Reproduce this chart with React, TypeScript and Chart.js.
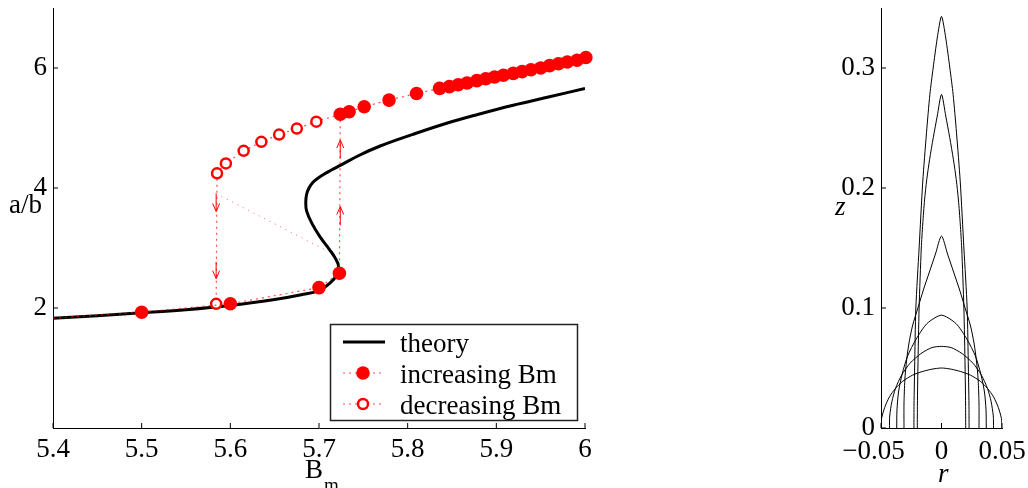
import React, { useEffect, useRef } from 'react';
import { Chart, registerables } from 'chart.js';

Chart.register(...registerables);

const SERIF = '"Liberation Serif", "DejaVu Serif", serif';
const FS = 27;

// ---------- left panel data ----------
const xTickValues = [5.4, 5.5, 5.6, 5.7, 5.8, 5.9, 6];
const xTickLabels = ['5.4', '5.5', '5.6', '5.7', '5.8', '5.9', '6'];
const yTickValues = [2, 4, 6];
const yTickLabels = ['2', '4', '6'];

const theoryBm = [5.40, 5.45, 5.50, 5.55, 5.60, 5.65, 5.68, 5.70, 5.712, 5.72, 5.722, 5.718, 5.712, 5.701, 5.692, 5.686, 5.6851, 5.686, 5.6887, 5.693, 5.6983, 5.7051, 5.7135, 5.724, 5.745, 5.769, 5.805, 5.844, 5.88, 5.919, 5.96, 6.00];
const theoryAB = [1.83, 1.87, 1.92, 1.97, 2.04, 2.14, 2.22, 2.29, 2.41, 2.55, 2.70, 2.84, 2.97, 3.19, 3.41, 3.62, 3.767, 3.892, 4.00, 4.092, 4.158, 4.225, 4.295, 4.377, 4.542, 4.70, 4.89, 5.08, 5.23, 5.38, 5.52, 5.66];

const incBm = [5.40, 5.50, 5.60, 5.70, 5.723, 5.724, 5.734, 5.751, 5.779, 5.810, 5.836, 5.847, 5.857, 5.867, 5.878, 5.888, 5.898, 5.908, 5.919, 5.929, 5.939, 5.950, 5.960, 5.970, 5.980, 5.991, 6.001];
const incAB = [1.83, 1.93, 2.07, 2.34, 2.58, 5.23, 5.27, 5.355, 5.465, 5.575, 5.66, 5.69, 5.72, 5.75, 5.79, 5.82, 5.85, 5.88, 5.91, 5.94, 5.97, 6.00, 6.04, 6.07, 6.10, 6.13, 6.175];
const incShown = [0, 1, 1, 1, 1, 1, 1, 1, 1, 1, 1, 1, 1, 1, 1, 1, 1, 1, 1, 1, 1, 1, 1, 1, 1, 1, 1];

const decBm = [5.724, 5.697, 5.675, 5.655, 5.635, 5.615, 5.595, 5.585, 5.584];
const decAB = [5.23, 5.105, 4.99, 4.89, 4.77, 4.62, 4.41, 4.245, 2.07];
const decShown = [0, 1, 1, 1, 1, 1, 1, 1, 1];

const guideBm = [5.590, 5.708];
const guideAB = [3.86, 2.96];

const arrowBm = [5.584, 5.584, 5.724, 5.724];
const arrowFrom = [3.91, 2.77, 3.38, 4.49];
const arrowTo = [3.61, 2.49, 3.69, 4.80];

const legendLabels = ['theory', 'increasing Bm', 'decreasing Bm'];

// ---------- right panel data ----------
const rTickValues = [-0.05, 0, 0.05];
const rTickLabels = ['\u22120.05', '0', '0.05'];
const zTickValues = [0, 0.1, 0.2, 0.3];
const zTickLabels = ['0', '0.1', '0.2', '0.3'];

const dropA_r = [-0.0228, -0.0227, -0.0222, -0.0212, -0.0185, -0.0155, -0.0124, -0.0096, -0.0069, -0.0035, 0, 0.0035, 0.0069, 0.0096, 0.0124, 0.0155, 0.0185, 0.0212, 0.0222, 0.0227, 0.0228];
const dropA_z = [0, 0.02, 0.05, 0.10, 0.15, 0.205, 0.246, 0.278, 0.30, 0.325, 0.343, 0.325, 0.30, 0.278, 0.246, 0.205, 0.15, 0.10, 0.05, 0.02, 0];

const dropB_r = [-0.0200, -0.0199, -0.0195, -0.0185, -0.0167, -0.0155, -0.0140, -0.0122, -0.0098, -0.0068, -0.0035, 0, 0.0035, 0.0068, 0.0098, 0.0122, 0.0140, 0.0155, 0.0167, 0.0185, 0.0195, 0.0199, 0.0200];
const dropB_z = [0, 0.02, 0.05, 0.10, 0.15, 0.17, 0.19, 0.207, 0.224, 0.242, 0.260, 0.278, 0.260, 0.242, 0.224, 0.207, 0.19, 0.17, 0.15, 0.10, 0.05, 0.02, 0];

const dropC_r = [-0.031, -0.031, -0.0303, -0.029, -0.027, -0.024, -0.0195, -0.015, -0.010, -0.005, 0, 0.005, 0.010, 0.015, 0.0195, 0.024, 0.027, 0.029, 0.0303, 0.031, 0.031];
const dropC_z = [0, 0.02, 0.04, 0.055, 0.07, 0.085, 0.10, 0.115, 0.13, 0.145, 0.160, 0.145, 0.13, 0.115, 0.10, 0.085, 0.07, 0.055, 0.04, 0.02, 0];

const dropD_r = [-0.037, -0.0368, -0.0355, -0.0325, -0.028, -0.021, -0.012, 0, 0.012, 0.021, 0.028, 0.0325, 0.0355, 0.0368, 0.037];
const dropD_z = [0, 0.015, 0.03, 0.045, 0.06, 0.074, 0.087, 0.094, 0.087, 0.074, 0.06, 0.045, 0.03, 0.015, 0];

const dropE_r = [-0.043, -0.0428, -0.041, -0.038, -0.033, -0.026, -0.017, -0.008, 0, 0.008, 0.017, 0.026, 0.033, 0.038, 0.041, 0.0428, 0.043];
const dropE_z = [0, 0.01, 0.022, 0.033, 0.044, 0.054, 0.062, 0.067, 0.068, 0.067, 0.062, 0.054, 0.044, 0.033, 0.022, 0.01, 0];

const dropF_r = [-0.050, -0.0495, -0.047, -0.043, -0.038, -0.032, -0.024, -0.016, -0.008, 0, 0.008, 0.016, 0.024, 0.032, 0.038, 0.043, 0.047, 0.0495, 0.050];
const dropF_z = [0, 0.008, 0.017, 0.026, 0.033, 0.039, 0.044, 0.047, 0.049, 0.050, 0.049, 0.047, 0.044, 0.039, 0.033, 0.026, 0.017, 0.008, 0];

const drops_r = [dropA_r, dropB_r, dropC_r, dropD_r, dropE_r, dropF_r];
const drops_z = [dropA_z, dropB_z, dropC_z, dropD_z, dropE_z, dropF_z];

const toPts = (xs: number[], ys: number[]) => xs.map((x, i) => ({ x, y: ys[i] }));

const RED_LINE = 'rgba(255,0,0,0.7)';
const DOT_R = 6.8;
const OPEN_R = 5;

const zeroPad = (s: any) => {
  s.paddingTop = 0;
  s.paddingBottom = 0;
  s.paddingLeft = 0;
  s.paddingRight = 0;
};

const leftDecor = {
  id: 'leftDecor',
  afterDraw(chart: any) {
    const { ctx } = chart;
    const x = chart.scales.x;
    const y = chart.scales.y;
    const area = chart.chartArea;
    ctx.save();
    ctx.strokeStyle = '#000';
    ctx.lineWidth = 1;
    ctx.setLineDash([]);
    xTickValues.forEach((v) => {
      const px = x.getPixelForValue(v);
      ctx.beginPath();
      ctx.moveTo(px, area.bottom);
      ctx.lineTo(px, area.bottom - 5);
      ctx.stroke();
    });
    yTickValues.forEach((v) => {
      const py = y.getPixelForValue(v);
      ctx.beginPath();
      ctx.moveTo(area.left, py);
      ctx.lineTo(area.left + 5, py);
      ctx.stroke();
    });
    // arrows
    ctx.strokeStyle = 'red';
    ctx.lineWidth = 1;
    arrowBm.forEach((b, i) => {
      const px = x.getPixelForValue(b);
      const p0 = y.getPixelForValue(arrowFrom[i]);
      const p1 = y.getPixelForValue(arrowTo[i]);
      const dir = p1 > p0 ? 1 : -1;
      ctx.beginPath();
      ctx.moveTo(px, p0);
      ctx.lineTo(px, p1);
      ctx.moveTo(px - 3.5, p1 - dir * 8);
      ctx.lineTo(px, p1);
      ctx.lineTo(px + 3.5, p1 - dir * 8);
      ctx.stroke();
    });
    // legend
    const bx = 330, by = 324, bw = 248, bh = 97;
    ctx.fillStyle = '#fff';
    ctx.fillRect(bx, by, bw, bh);
    ctx.strokeStyle = '#222';
    ctx.lineWidth = 1.5;
    ctx.strokeRect(bx + 0.5, by + 0.5, bw - 1, bh - 1);
    const rows = [342, 373, 404];
    ctx.strokeStyle = '#000';
    ctx.lineWidth = 3;
    ctx.beginPath();
    ctx.moveTo(343, rows[0]);
    ctx.lineTo(385, rows[0]);
    ctx.stroke();
    [1, 2].forEach((k) => {
      ctx.strokeStyle = RED_LINE;
      ctx.lineWidth = 1.2;
      ctx.setLineDash([2, 4]);
      ctx.beginPath();
      ctx.moveTo(343, rows[k]);
      ctx.lineTo(385, rows[k]);
      ctx.stroke();
      ctx.setLineDash([]);
      ctx.beginPath();
      if (k === 1) {
        ctx.arc(363, rows[k], DOT_R, 0, Math.PI * 2);
        ctx.fillStyle = 'red';
        ctx.fill();
      } else {
        ctx.arc(363, rows[k], OPEN_R, 0, Math.PI * 2);
        ctx.fillStyle = '#fff';
        ctx.fill();
        ctx.strokeStyle = 'red';
        ctx.lineWidth = 2.5;
        ctx.stroke();
      }
    });
    ctx.fillStyle = '#000';
    ctx.font = `${FS}px ${SERIF}`;
    ctx.textBaseline = 'alphabetic';
    ctx.textAlign = 'left';
    legendLabels.forEach((t, i) => ctx.fillText(t, 400, rows[i] + 10));
    // axis titles
    ctx.fillText('a/b', 9, 213);
    ctx.fillText('B', 305, 478);
    ctx.font = `19px ${SERIF}`;
    ctx.fillText('m', 324, 491);
    ctx.restore();
  },
};

const rightDecor = {
  id: 'rightDecor',
  afterDraw(chart: any) {
    const { ctx } = chart;
    const x = chart.scales.x;
    const y = chart.scales.y;
    const area = chart.chartArea;
    ctx.save();
    ctx.strokeStyle = '#000';
    ctx.lineWidth = 1;
    rTickValues.forEach((v) => {
      const px = x.getPixelForValue(v);
      ctx.beginPath();
      ctx.moveTo(px, area.bottom);
      ctx.lineTo(px, area.bottom - 5);
      ctx.stroke();
    });
    zTickValues.forEach((v) => {
      const py = y.getPixelForValue(v);
      ctx.beginPath();
      ctx.moveTo(area.left, py);
      ctx.lineTo(area.left + 5, py);
      ctx.stroke();
    });
    ctx.fillStyle = '#000';
    ctx.font = `${FS}px ${SERIF}`;
    ctx.textBaseline = 'alphabetic';
    ctx.textAlign = 'left';
    rTickValues.forEach((v, i) => {
      const px = x.getPixelForValue(v);
      const label = rTickLabels[i];
      const neg = label.startsWith('\u2212');
      const body = neg ? label.slice(1) : label;
      const w = ctx.measureText(body).width;
      const left = px - w / 2;
      ctx.fillText(body, left, 459);
      if (neg) {
        const mw = ctx.measureText('\u2212').width;
        ctx.fillText('\u2212', left - mw, 459);
      }
    });
    ctx.font = `italic ${FS}px ${SERIF}`;
    ctx.fillText('z', 35, 215);
    ctx.fillText('r', 138, 482);
    ctx.restore();
  },
};

export default function App() {
  const leftRef = useRef<HTMLCanvasElement | null>(null);
  const rightRef = useRef<HTMLCanvasElement | null>(null);

  useEffect(() => {
    const tickFont = { family: SERIF, size: FS };
    const left = new Chart(leftRef.current as HTMLCanvasElement, {
      type: 'scatter',
      data: {
        datasets: [
          {
            label: 'increasing Bm',
            data: toPts(incBm, incAB),
            showLine: true,
            borderColor: RED_LINE,
            borderWidth: 1.2,
            borderDash: [2, 4],
            pointRadius: incShown.map((s) => s * DOT_R),
            pointBackgroundColor: 'red',
            pointBorderColor: 'red',
            pointBorderWidth: 0,
            tension: 0,
            clip: false,
          },
          {
            label: 'decreasing Bm',
            data: toPts(decBm, decAB),
            showLine: true,
            borderColor: RED_LINE,
            borderWidth: 1.2,
            borderDash: [2, 4],
            pointRadius: decShown.map((s) => s * OPEN_R),
            pointBackgroundColor: '#fff',
            pointBorderColor: 'red',
            pointBorderWidth: 2.5,
            tension: 0,
            clip: false,
          },
          {
            label: 'guide',
            data: toPts(guideBm, guideAB),
            showLine: true,
            borderColor: 'rgba(255,0,0,0.6)',
            borderWidth: 1,
            borderDash: [1, 5],
            pointRadius: 0,
            tension: 0,
          },
          {
            label: 'theory',
            data: toPts(theoryBm, theoryAB),
            showLine: true,
            borderColor: '#000',
            borderWidth: 3,
            pointRadius: 0,
            tension: 0.4,
          },
        ],
      },
      options: {
        animation: false,
        responsive: false,
        maintainAspectRatio: false,
        events: [],
        layout: { padding: { top: 8, right: 35, left: 0, bottom: 0 } },
        plugins: { legend: { display: false }, tooltip: { enabled: false } },
        scales: {
          x: {
            type: 'linear',
            min: 5.4,
            max: 6,
            afterBuildTicks: (s: any) => {
              s.ticks = xTickValues.map((v) => ({ value: v }));
            },
            afterFit: (s: any) => {
              s.height = 60;
              zeroPad(s);
            },
            grid: { display: false, drawTicks: false },
            border: { display: true, color: '#000', width: 1 },
            ticks: {
              font: tickFont,
              color: '#000',
              padding: 6,
              maxRotation: 0,
              autoSkip: false,
              callback: (_v: any, i: number) => xTickLabels[i] ?? '',
            },
          },
          y: {
            type: 'linear',
            min: 0,
            max: 7,
            afterBuildTicks: (s: any) => {
              s.ticks = yTickValues.map((v) => ({ value: v }));
            },
            afterFit: (s: any) => {
              s.width = 53;
              zeroPad(s);
            },
            grid: { display: false, drawTicks: false },
            border: { display: true, color: '#000', width: 1 },
            ticks: {
              font: tickFont,
              color: '#000',
              padding: 6,
              autoSkip: false,
              callback: (_v: any, i: number) => yTickLabels[i] ?? '',
            },
          },
        },
      },
      plugins: [leftDecor],
    } as any);

    const right = new Chart(rightRef.current as HTMLCanvasElement, {
      type: 'scatter',
      data: {
        datasets: drops_r.map((rs, k) => ({
          label: 'drop ' + (k + 1),
          data: toPts(rs, drops_z[k]),
          showLine: true,
          borderColor: '#000',
          borderWidth: 1,
          pointRadius: 0,
          tension: 0.25,
        })),
      },
      options: {
        animation: false,
        responsive: false,
        maintainAspectRatio: false,
        events: [],
        layout: { padding: { top: 8, right: 26, left: 0, bottom: 0 } },
        plugins: { legend: { display: false }, tooltip: { enabled: false } },
        scales: {
          x: {
            type: 'linear',
            min: -0.05,
            max: 0.05,
            afterBuildTicks: (s: any) => {
              s.ticks = rTickValues.map((v) => ({ value: v }));
            },
            afterFit: (s: any) => {
              s.height = 60;
              zeroPad(s);
            },
            grid: { display: false, drawTicks: false },
            border: { display: true, color: '#000', width: 1 },
            ticks: { display: false },
          },
          y: {
            type: 'linear',
            min: 0,
            max: 0.35,
            afterBuildTicks: (s: any) => {
              s.ticks = zTickValues.map((v) => ({ value: v }));
            },
            afterFit: (s: any) => {
              s.width = 81;
              zeroPad(s);
            },
            grid: { display: false, drawTicks: false },
            border: { display: true, color: '#000', width: 1 },
            ticks: {
              font: tickFont,
              color: '#000',
              padding: 6,
              autoSkip: false,
              callback: (_v: any, i: number) => zTickLabels[i] ?? '',
            },
          },
        },
      },
      plugins: [rightDecor],
    } as any);

    return () => {
      left.destroy();
      right.destroy();
    };
  }, []);

  return (
    <div style={{ position: 'absolute', left: 0, top: 0, width: 1028, height: 488, background: '#fff', overflow: 'hidden' }}>
      <canvas ref={leftRef} width={620} height={488} style={{ position: 'absolute', left: 0, top: 0, width: 620, height: 488 }} />
      <canvas ref={rightRef} width={228} height={488} style={{ position: 'absolute', left: 800, top: 0, width: 228, height: 488 }} />
    </div>
  );
}
